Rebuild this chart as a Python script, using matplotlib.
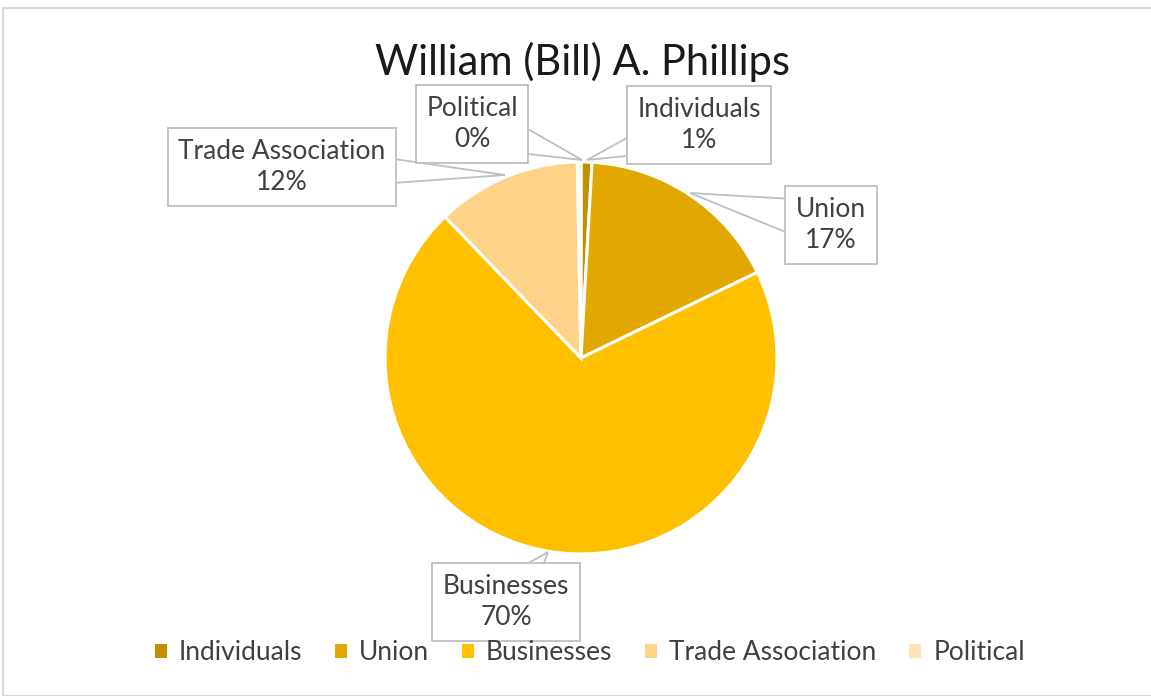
import matplotlib
matplotlib.use("Agg")
import numpy as np
from matplotlib import pyplot as plt
from matplotlib.patches import Patch, Polygon, Rectangle

W, H = 1151, 696

categories = ["Individuals", "Union", "Businesses", "Trade Association", "Political"]
shares = [0.9, 16.9, 70.0, 11.9, 0.3]
colors = ["#C09000", "#E0A800", "#FFC000", "#FFD28A", "#FFE3B8"]
title = "William (Bill) A. Phillips"

# callout box centres and pointer targets, in image pixels (y down)
label_pos = [(699, 125), (831, 225), (506, 602), (282, 167), (472, 124)]
label_tip = [(587, 160), (690, 193), (548, 552), (505, 175), (582, 160)]

plt.rcParams["font.family"] = ["Lato", "DejaVu Sans"]

fig = plt.figure(figsize=(W / 100, H / 100), dpi=100)
ax = fig.add_axes([0, 0, 1, 1])

# outer chart border
fig.patches.append(Rectangle((3 / W, 0), 1.2, 1 - 8 / H, transform=fig.transFigure,
                             fill=False, ec="#D9D9D9", lw=1.5))

ax.pie(shares, colors=colors, startangle=90, counterclock=False,
       center=(581, H - 358), radius=196, frame=True,
       wedgeprops=dict(edgecolor="white", linewidth=2.2))
ax.set_xlim(0, W)
ax.set_ylim(0, H)
ax.set_aspect("equal")
ax.axis("off")

for name, val, (bx, by), (tx, ty) in zip(categories, shares, label_pos, label_tip):
    # callout pointer: triangle from under the box to the slice
    base = np.array([bx, H - by], dtype=float)
    tip = np.array([tx, H - ty], dtype=float)
    d = tip - base
    n = np.array([-d[1], d[0]]) / np.hypot(*d)
    tri = Polygon([base + 24 * n, tip, base - 24 * n], closed=True,
                  fc="white", ec="#BFBFBF", lw=1.3, zorder=2.5)
    ax.add_patch(tri)
    ax.text(bx, H - by, f"{name}\n{round(val):.0f}%",
            ha="center", va="center", fontsize=19, color="#404040",
            linespacing=1.3, zorder=3,
            bbox=dict(boxstyle="square,pad=0.4", fc="white", ec="#BFBFBF", lw=1.3))

ax.text(583, H - 62, title, ha="center", va="center", fontsize=30, color="#1a1a1a")

handles = [Patch(facecolor=c, edgecolor="none") for c in colors]
fig.legend(handles, categories, loc="center", bbox_to_anchor=(590 / W, 1 - 653 / H),
           ncol=5, frameon=False, fontsize=19, handlelength=0.45, handleheight=0.45,
           handletextpad=0.45, columnspacing=1.25, labelcolor="#404040")

fig.savefig("out.png", dpi=100)
